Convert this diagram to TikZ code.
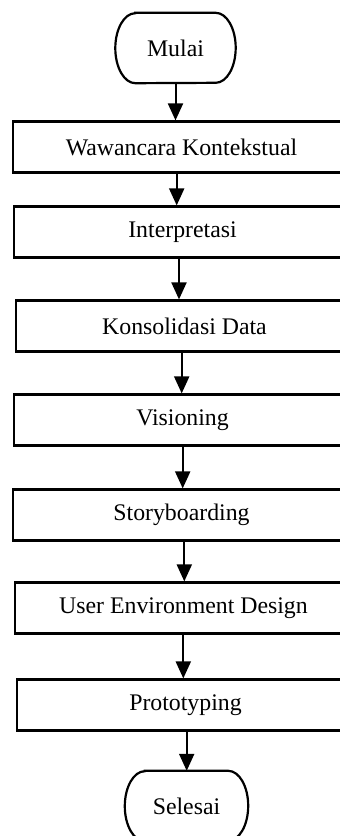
\documentclass[tikz,border=0pt]{standalone}
\usepackage{fontspec}
\setmainfont{Liberation Serif}
\usetikzlibrary{arrows.meta}
\newcommand{\fsz}{\fontsize{23.8}{28}\selectfont}
\begin{document}
\begin{tikzpicture}[x=1pt,y=-1pt,
  box/.style={draw,line width=2.2pt,minimum width=337pt,minimum height=51pt,inner sep=0pt,font=\fsz},
  term/.style={minimum width=120pt,minimum height=70pt,inner sep=0pt,font=\fsz},
  termline/.style={line width=2.2pt},
  arr/.style={line width=2pt,-{Triangle[width=15pt,length=17pt]}}]
\useasboundingbox (0,0) rectangle (340,836);
\node[term] (mulai) at (175.5,48) {Mulai};
\node[box] (waw) at (181.5,147) {Wawancara Kontekstual};
\node[box] (int) at (182.5,232) {Interpretasi};
\node[box] (kons) at (184.5,326) {Konsolidasi Data};
\node[box] (vis) at (182.5,420) {Visioning};
\node[box] (story) at (181.5,515) {Storyboarding};
\node[box] (ued) at (183.5,608) {User Environment Design};
\node[box] (proto) at (185.5,705) {Prototyping};
\node[term,minimum width=123pt] (selesai) at (186.5,806) {Selesai};
\foreach \t in {mulai,selesai}{
  \draw[termline] ([xshift=20pt]\t.north west) -- ([xshift=-20pt]\t.north east)
    arc[start angle=90,end angle=-90,x radius=20pt,y radius=35pt]
    -- ([xshift=20pt]\t.south west)
    arc[start angle=270,end angle=90,x radius=20pt,y radius=35pt] -- cycle;
}
\draw[arr] (mulai.south) -- (mulai.south |- waw.north);
\draw[arr] ([xshift=-4.8pt]waw.south) -- ([xshift=-4.8pt]waw.south |- int.north);
\draw[arr] ([xshift=-3.5pt]int.south) -- ([xshift=-3.5pt]int.south |- kons.north);
\draw[arr] ([xshift=-2.8pt]kons.south) -- ([xshift=-2.8pt]kons.south |- vis.north);
\draw[arr] ([xshift=0.2pt]vis.south) -- ([xshift=0.2pt]vis.south |- story.north);
\draw[arr] ([xshift=2.8pt]story.south) -- ([xshift=2.8pt]story.south |- ued.north);
\draw[arr] ([xshift=-0.2pt]ued.south) -- ([xshift=-0.2pt]ued.south |- proto.north);
\draw[arr] ([xshift=1.2pt]proto.south) -- ([xshift=1.2pt]proto.south |- selesai.north);
\end{tikzpicture}
\end{document}
